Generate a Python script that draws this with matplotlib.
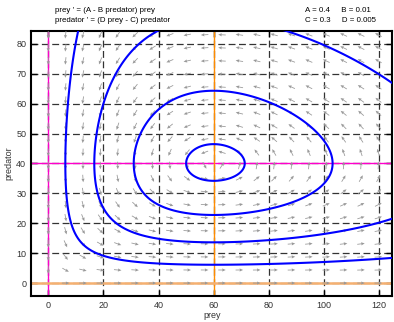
import numpy as np
import matplotlib.pyplot as plt

plt.rcParams['font.family'] = ['Liberation Sans', 'DejaVu Sans']

# model parameters shown on the chart
A, B, C, D = 0.4, 0.01, 0.3, 0.005

# prey value where each drawn orbit crosses predator = 40 (left side)
orbit_prey_at40 = [50.0, 31.0, 16.7, 6.2]

xticks = [0, 20, 40, 60, 80, 100, 120]
yticks = [0, 10, 20, 30, 40, 50, 60, 70, 80]
xlim = (-6.2, 124.8)
ylim = (-4.3, 84.3)

# direction field grid
xg = np.linspace(0, 119.7, 20)
yg = np.linspace(0, 83.0, 20)

fig = plt.figure(figsize=(3.94, 3.22), dpi=100)
ax = fig.add_axes([0.079, 0.081, 0.917, 0.823])

for xv in xticks:
    ax.axvline(xv, color='#333333', lw=0.9, dashes=(5.5, 2.8), zorder=1)
for yv in yticks:
    ax.axhline(yv, color='#333333', lw=0.9, dashes=(5.5, 2.8), zorder=1)

# nullclines
ax.axvline(0, color='#ff00cc', lw=1.0, zorder=2)
ax.axhline(A / B, color='#ff00cc', lw=1.0, zorder=2)
ax.axvline(C / D, color='#ff8c00', lw=1.0, zorder=2)
ax.axhline(0, color='#f5b070', lw=1.8, zorder=2)

# direction field, normalised in screen space
X, Y = np.meshgrid(xg, yg)
U = (A - B * Y) * X
V = (D * X - C) * Y
sx = 2.76  # px per unit x
sy = 2.99  # px per unit y
Us, Vs = U * sx, V * sy
mag = np.hypot(Us, Vs)
mag[mag == 0] = 1
Us, Vs = Us / mag * 0.075, Vs / mag * 0.075
ax.quiver(X, Y, Us, Vs, color='#999999', pivot='mid', units='inches',
          scale_units='inches', scale=1, width=0.008, headwidth=4,
          headlength=4.5, headaxislength=4, zorder=3)

# orbits as level sets of the conserved quantity
xx = np.linspace(0.5, 200, 800)
yy = np.linspace(0.5, 160, 800)
XX, YY = np.meshgrid(xx, yy)
H = D * XX - C * np.log(XX) + B * YY - A * np.log(YY)
levels = sorted(D * p - C * np.log(p) + B * 40 - A * np.log(40) for p in orbit_prey_at40)
ax.contour(XX, YY, H, levels=levels, colors='#0000ff', linewidths=1.5,
           linestyles='solid', zorder=4)

ax.set_xlim(*xlim)
ax.set_ylim(*ylim)
ax.set_xticks(xticks)
ax.set_yticks(yticks)
ax.tick_params(direction='in', top=True, right=True, labelsize=6.5, length=4, width=1,
               labelcolor='#333333')
for s in ax.spines.values():
    s.set_linewidth(1.5)
ax.set_xlabel('prey', fontsize=6.5, labelpad=1, color='#333333')
ax.set_ylabel('predator', fontsize=6.5, labelpad=2, color='#333333')

fig.text(0.14, 0.967, "prey ' = (A - B predator) prey", fontsize=5.7, va='center')
fig.text(0.14, 0.935, "predator ' = (D prey - C) predator", fontsize=5.7, va='center')
fig.text(0.775, 0.967, "A = 0.4     B = 0.01", fontsize=5.7, va='center')
fig.text(0.775, 0.935, "C = 0.3     D = 0.005", fontsize=5.7, va='center')

fig.savefig('out.png', dpi=100)
